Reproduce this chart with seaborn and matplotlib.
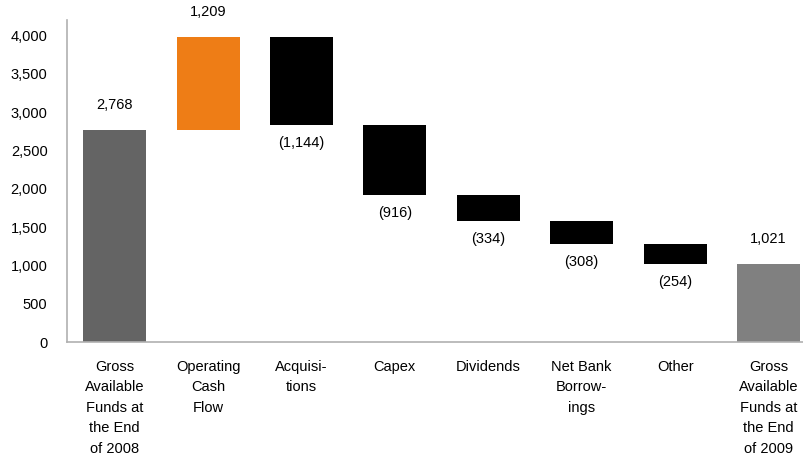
import matplotlib
matplotlib.use("Agg")
import matplotlib.pyplot as plt
import seaborn as sns
import pandas as pd
import numpy as np

categories = [
    "Gross\nAvailable\nFunds at\nthe End\nof 2008",
    "Operating\nCash\nFlow",
    "Acquisi-\ntions",
    "Capex",
    "Dividends",
    "Net Bank\nBorrow-\nings",
    "Other",
    "Gross\nAvailable\nFunds at\nthe End\nof 2009",
]
changes = [2768, 1209, -1144, -916, -334, -308, -254, 1021]
value_labels = ["2,768", "1,209", "(1,144)", "(916)", "(334)", "(308)", "(254)", "1,021"]
bar_colors = ["#646464", "#EE7D16", "#000000", "#000000", "#000000", "#000000", "#000000", "#808080"]
y_ticks = [0, 500, 1000, 1500, 2000, 2500, 3000, 3500, 4000]

# waterfall geometry
bottoms, heights = [], []
running = 0
for i, c in enumerate(changes):
    if i == 0 or i == len(changes) - 1:
        bottoms.append(0)
        heights.append(abs(c))
        if i == 0:
            running = c
    else:
        new = running + c
        bottoms.append(min(running, new))
        heights.append(abs(c))
        running = new

df = pd.DataFrame({"cat": categories, "height": heights, "bottom": bottoms})

sns.set_theme(style="white")
plt.rcParams["font.family"] = ["Liberation Sans", "DejaVu Sans"]

fig = plt.figure(figsize=(8.04, 4.63), dpi=100)
ax = fig.add_axes([67 / 804, 121 / 463, 1 - 67 / 804, 322 / 463])

sns.barplot(data=df, x="cat", y="height", order=categories, color="#000000",
            bottom=np.array(bottoms), width=0.675, ax=ax,
            saturation=1, linewidth=0, errorbar=None)
for patch, col in zip(ax.patches, bar_colors):
    patch.set_facecolor(col)
    patch.set_edgecolor(col)

ax.set_xlim(-0.51, 7.38)
ax.set_ylim(0, 4200)
ax.set_yticks(y_ticks)
ax.set_yticklabels([f"{v:,}" for v in y_ticks], fontsize=10.5, color="#000000")
ax.set_xticks(range(len(categories)))
ax.set_xticklabels(categories, fontsize=10.5, color="#000000", linespacing=1.58,
                   va="top")
ax.tick_params(axis="x", length=0, pad=13)
ax.tick_params(axis="y", length=0, pad=14)
ax.set_xlabel("")
ax.set_ylabel("")

for s in ["top", "right"]:
    ax.spines[s].set_visible(False)
for s in ["left", "bottom"]:
    ax.spines[s].set_color("#B0B0B0")
    ax.spines[s].set_linewidth(1.2)

for i, (c, b, h, lab) in enumerate(zip(changes, bottoms, heights, value_labels)):
    if c >= 0:
        ax.annotate(lab, (i, b + h), xytext=(0, 18), textcoords="offset points",
                    ha="center", va="center", fontsize=10.5, color="#000000")
    else:
        ax.annotate(lab, (i, b), xytext=(0, -13), textcoords="offset points",
                    ha="center", va="center", fontsize=10.5, color="#000000")

fig.savefig("out.png", dpi=100)
